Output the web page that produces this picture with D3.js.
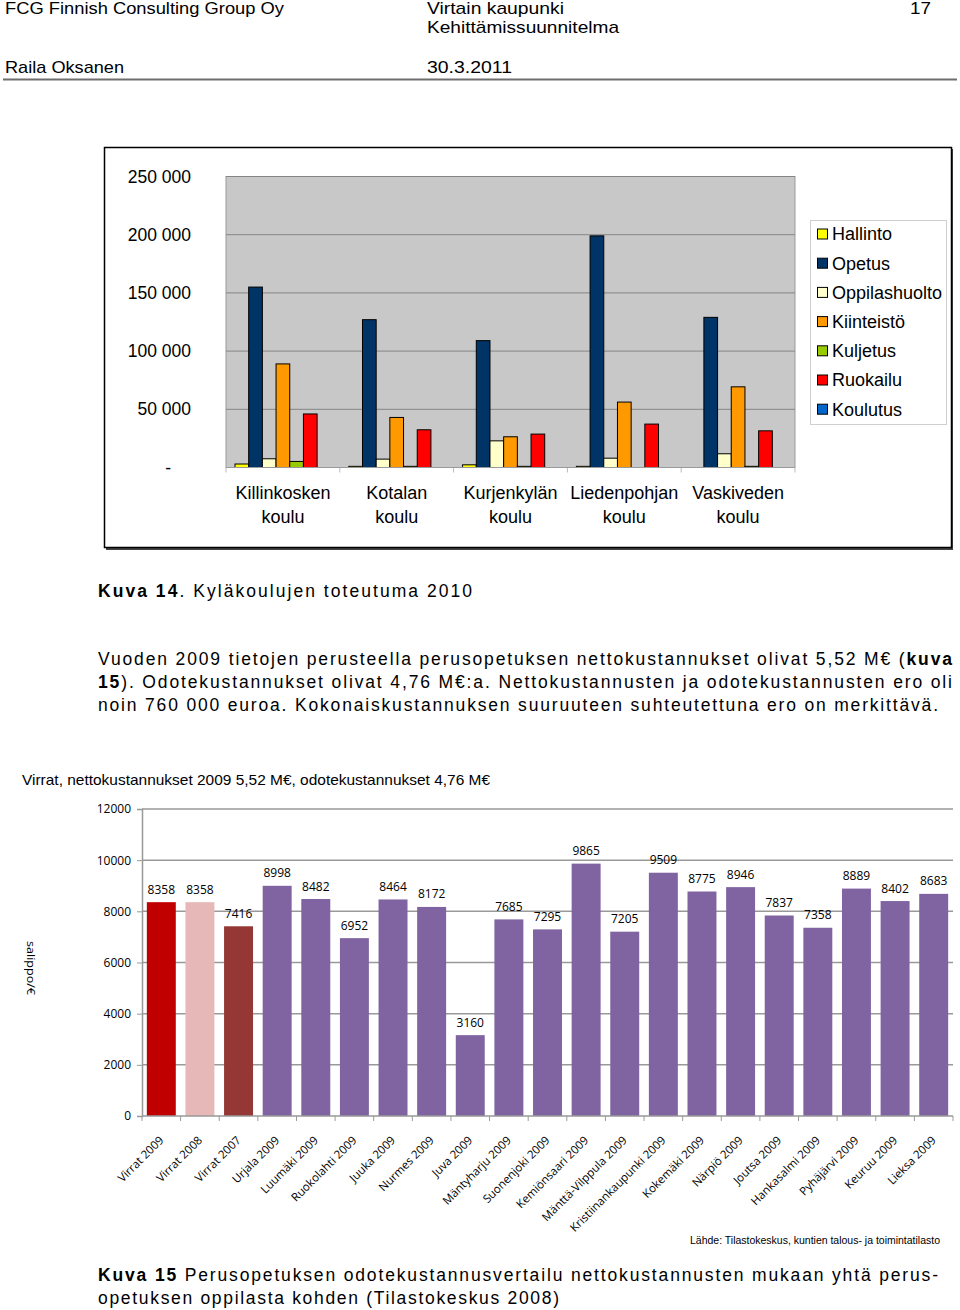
<!DOCTYPE html>
<html>
<head>
<meta charset="utf-8">
<script src="https://cdn.jsdelivr.net/npm/d3@7"></script>
<style>
  body { margin: 0; background: #fff; }
  svg { display: block; }
  .doc { font-family: 'Liberation Sans', Arial, sans-serif; fill: #000; }
  .c1 { font-family: 'Liberation Sans', Arial, sans-serif; fill: #000; }
  .c2 { font-family: 'Open Sans', 'Noto Sans', sans-serif; fill: #000; }
</style>
</head>
<body>
<div id="page"></div>
<script>
// chart 1: kyläkoulujen toteutuma 2010
var schools = ["Killinkosken koulu", "Kotalan koulu", "Kurjenkylän koulu", "Liedenpohjan koulu", "Vaskiveden koulu"];
var seriesNames = ["Hallinto", "Opetus", "Oppilashuolto", "Kiinteistö", "Kuljetus", "Ruokailu", "Koulutus"];
var hallinto      = [3000, 1000, 2300, 1000, 0];
var opetus        = [155000, 127000, 109000, 199000, 129000];
var oppilashuolto = [7500, 7200, 22900, 8000, 11800];
var kiinteisto    = [89000, 43000, 26400, 56200, 69300];
var kuljetus      = [5200, 1000, 1000, 0, 1000];
var ruokailu      = [46000, 32400, 28700, 37300, 31500];
var koulutus      = [0, 0, 0, 0, 0];
var y1Ticks = [0, 50000, 100000, 150000, 200000, 250000];

// chart 2: odotekustannukset per oppilas
var municipalities = ["Virrat 2009", "Virrat 2008", "Virrat 2007", "Urjala 2009", "Luumäki 2009", "Ruokolahti 2009",
  "Juuka 2009", "Nurmes 2009", "Juva 2009", "Mäntyharju 2009", "Suonenjoki 2009", "Kemiönsaari 2009",
  "Mänttä-Vilppula 2009", "Kristiinankaupunki 2009", "Kokemäki 2009", "Närpiö 2009", "Joutsa 2009",
  "Hankasalmi 2009", "Pyhäjärvi 2009", "Keuruu 2009", "Lieksa 2009"];
var costPerPupil = [8358, 8358, 7416, 8998, 8482, 6952, 8464, 8172, 3160, 7685, 7295, 9865,
  7205, 9509, 8775, 8946, 7837, 7358, 8889, 8402, 8683];
var y2Ticks = [0, 2000, 4000, 6000, 8000, 10000, 12000];

var seriesValues = [hallinto, opetus, oppilashuolto, kiinteisto, kuljetus, ruokailu, koulutus];

var svg = d3.select("#page").append("svg")
    .attr("width", 960)
    .attr("height", 1310);

// ---------- page text helper ----------
function docText(x, y, w, parts, size, squeeze) {
  var t = svg.append("text").attr("class", "doc")
      .attr("x", x).attr("y", y)
      .style("font-size", (size || 17) + "px");
  if (w) t.attr("textLength", w).attr("lengthAdjust", squeeze ? "spacingAndGlyphs" : "spacing");
  parts.forEach(function(p) {
    t.append("tspan").text(p[0]).style("font-weight", p[1] ? "bold" : "normal");
  });
  return t;
}

docText(5, 14, 279, [["FCG Finnish Consulting Group Oy"]], 17, true);
docText(427, 14, 137, [["Virtain kaupunki"]], 17, true);
docText(910, 14, 21, [["17"]], 17, true);
docText(427, 33, 192, [["Kehittämissuunnitelma"]], 17, true);
docText(5, 73, 119, [["Raila Oksanen"]], 17, true);
docText(427, 73, 85, [["30.3.2011"]], 17, true);
svg.append("line").attr("x1", 3).attr("x2", 957).attr("y1", 79.5).attr("y2", 79.5)
    .attr("stroke", "#6e6e6e").attr("stroke-width", 2);

// ---------- chart 1 ----------
svg.append("rect").attr("x", 106).attr("y", 149).attr("width", 847).attr("height", 401)
    .attr("fill", "#444");
svg.append("rect").attr("x", 104.5).attr("y", 147.5).attr("width", 847).attr("height", 400)
    .attr("fill", "#fff").attr("stroke", "#000").attr("stroke-width", 1.5);

var p1 = {left: 226, right: 795, top: 176.5, bottom: 467.5};

var x1 = d3.scaleBand().domain(schools).range([p1.left, p1.right]);
var xs = d3.scaleBand().domain(seriesNames).range([9, x1.bandwidth() - 9]);
var y1 = d3.scaleLinear().domain([0, 250000]).range([p1.bottom, p1.top]);
var color1 = d3.scaleOrdinal().domain(seriesNames)
    .range(["#FFFF00", "#003366", "#FFFFCC", "#FF9900", "#99CC00", "#FF0000", "#0066CC"]);

svg.append("rect").attr("x", p1.left).attr("y", p1.top)
    .attr("width", p1.right - p1.left).attr("height", p1.bottom - p1.top)
    .attr("fill", "#C8C8C8").attr("stroke", "#9a9a9a");

svg.append("g").selectAll("line").data(y1Ticks.slice(1)).enter().append("line")
    .attr("x1", p1.left).attr("x2", p1.right)
    .attr("y1", function(d) { return y1(d); }).attr("y2", function(d) { return y1(d); })
    .attr("stroke", "#858585");

svg.append("g").selectAll("text").data(y1Ticks).enter().append("text")
    .attr("class", "c1")
    .attr("x", function(d) { return d === 0 ? 171 : 191; })
    .attr("y", function(d) { return y1(d); })
    .attr("dy", "0.35em")
    .attr("text-anchor", "end")
    .style("font-size", "17.5px")
    .text(function(d) { return d === 0 ? "-" : d3.format(",")(d).replace(/,/g, " "); });

// category ticks below the axis
svg.append("g").selectAll("line").data(d3.range(schools.length + 1)).enter().append("line")
    .attr("x1", function(i) { return p1.left + i * x1.step(); })
    .attr("x2", function(i) { return p1.left + i * x1.step(); })
    .attr("y1", p1.bottom).attr("y2", p1.bottom + 5)
    .attr("stroke", "#bbb");

var barData = [];
schools.forEach(function(s, i) {
  seriesNames.forEach(function(n, j) {
    if (seriesValues[j][i] > 0) barData.push({school: s, series: n, value: seriesValues[j][i]});
  });
});

svg.append("g").selectAll("rect").data(barData).enter().append("rect")
    .attr("x", function(d) { return x1(d.school) + xs(d.series); })
    .attr("y", function(d) { return y1(d.value); })
    .attr("width", xs.bandwidth())
    .attr("height", function(d) { return y1(0) - y1(d.value); })
    .attr("fill", function(d) { return color1(d.series); })
    .attr("stroke", "#000").attr("stroke-width", 1);

svg.append("line").attr("x1", p1.left).attr("x2", p1.right)
    .attr("y1", p1.bottom).attr("y2", p1.bottom).attr("stroke", "#9a9a9a");

var xl = svg.append("g").selectAll("text").data(schools).enter().append("text")
    .attr("class", "c1")
    .attr("text-anchor", "middle")
    .style("font-size", "18px");
xl.append("tspan")
    .attr("x", function(d) { return x1(d) + x1.bandwidth() / 2; })
    .attr("y", 499)
    .text(function(d) { return d.split(" ")[0]; });
xl.append("tspan")
    .attr("x", function(d) { return x1(d) + x1.bandwidth() / 2; })
    .attr("y", 523)
    .text(function(d) { return d.split(" ")[1]; });

// legend
svg.append("rect").attr("x", 810.5).attr("y", 220.5).attr("width", 136).attr("height", 204)
    .attr("fill", "#fff").attr("stroke", "#cfcfcf");
var lg = svg.append("g").selectAll("g").data(seriesNames).enter().append("g")
    .attr("transform", function(d, i) { return "translate(817," + (234 + i * 29.2) + ")"; });
lg.append("rect").attr("x", 0.5).attr("y", -5).attr("width", 10).attr("height", 10)
    .attr("fill", function(d) { return color1(d); }).attr("stroke", "#000");
lg.append("text").attr("class", "c1").attr("x", 15).attr("dy", "0.35em")
    .style("font-size", "18px").text(function(d) { return d; });

// ---------- text between charts ----------
docText(98, 597, 374, [["Kuva 14", true], [". Kyläkoulujen toteutuma 2010"]], 17.5);
docText(98, 665, 854, [["Vuoden 2009 tietojen perusteella perusopetuksen nettokustannukset olivat 5,52 M€ ("], ["kuva", true]], 17.5);
docText(98, 688, 854, [["15", true], ["). Odotekustannukset olivat 4,76 M€:a. Nettokustannusten ja odotekustannusten ero oli"]], 17.5);
docText(98, 711, 840, [["noin 760 000 euroa. Kokonaiskustannuksen suuruuteen suhteutettuna ero on merkittävä."]], 17.5);

// ---------- chart 2 ----------
svg.append("text").attr("class", "c1")
    .attr("x", 22).attr("y", 785)
    .attr("textLength", 468).attr("lengthAdjust", "spacingAndGlyphs")
    .style("font-size", "15px")
    .text("Virrat, nettokustannukset 2009 5,52 M€, odotekustannukset 4,76 M€");

var p2 = {left: 142, right: 953, top: 809, bottom: 1116};
var x2 = d3.scaleBand().domain(municipalities).range([p2.left, p2.right])
    .paddingInner(0.25).paddingOuter(0.125);
var y2 = d3.scaleLinear().domain([0, 12000]).range([p2.bottom, p2.top]);
var barColor2 = function(i) { return i === 0 ? "#C00000" : i === 1 ? "#E6B9B8" : i === 2 ? "#953735" : "#8064A2"; };

svg.append("g").selectAll("line").data(y2Ticks.slice(1)).enter().append("line")
    .attr("x1", p2.left).attr("x2", p2.right)
    .attr("y1", function(d) { return y2(d); }).attr("y2", function(d) { return y2(d); })
    .attr("stroke", "#999").attr("stroke-width", 1.5);

var yAxis2 = svg.append("g").attr("transform", "translate(" + p2.left + ",0)")
    .call(d3.axisLeft(y2).tickValues(y2Ticks).tickSize(5).tickPadding(6).tickFormat(d3.format("d")));
yAxis2.select(".domain").attr("stroke", "#999").attr("stroke-width", 1.5);
yAxis2.selectAll(".tick line").attr("stroke", "#999");
yAxis2.selectAll(".tick text").attr("class", "c2").style("font-size", "12px").attr("fill", "#000");

svg.append("g").selectAll("rect").data(costPerPupil).enter().append("rect")
    .attr("x", function(d, i) { return x2(municipalities[i]); })
    .attr("y", function(d) { return y2(d); })
    .attr("width", x2.bandwidth())
    .attr("height", function(d) { return y2(0) - y2(d); })
    .attr("fill", function(d, i) { return barColor2(i); });

svg.append("g").selectAll("text").data(costPerPupil).enter().append("text")
    .attr("class", "c2")
    .attr("x", function(d, i) { return x2(municipalities[i]) + x2.bandwidth() / 2; })
    .attr("y", function(d) { return y2(d) - 8.5; })
    .attr("text-anchor", "middle")
    .style("font-size", "12px")
    .text(function(d) { return d; });

var xAxis2 = svg.append("g").attr("transform", "translate(0," + p2.bottom + ")");
xAxis2.append("line").attr("x1", p2.left).attr("x2", p2.right).attr("stroke", "#999").attr("stroke-width", 1.5);
xAxis2.selectAll(".tk").data(d3.range(municipalities.length + 1)).enter().append("line")
    .attr("x1", function(i) { return p2.left + i * x2.step(); })
    .attr("x2", function(i) { return p2.left + i * x2.step(); })
    .attr("y1", 0).attr("y2", 5).attr("stroke", "#999");

svg.append("g").selectAll("text").data(municipalities).enter().append("text")
    .attr("class", "c2")
    .attr("text-anchor", "end")
    .style("font-size", "11.5px")
    .attr("transform", function(d) {
      return "translate(" + (x2(d) + x2.bandwidth() / 2 + 3) + ",1141) rotate(-45)";
    })
    .text(function(d) { return d; });

// garbled vertical axis title as it appears in the source: turned text, squeezed to its short length
svg.append("text").attr("class", "c2")
    .attr("transform", "translate(27,941) rotate(90)")
    .attr("textLength", 54).attr("lengthAdjust", "spacingAndGlyphs")
    .style("font-size", "11px")
    .text("salippo/€");

svg.append("text").attr("class", "c1")
    .attr("x", 690).attr("y", 1244)
    .attr("textLength", 250).attr("lengthAdjust", "spacingAndGlyphs")
    .style("font-size", "11px")
    .text("Lähde: Tilastokeskus, kuntien talous- ja toimintatilasto");

docText(98, 1281, 840, [["Kuva 15", true], [" Perusopetuksen odotekustannusvertailu nettokustannusten mukaan yhtä perus-"]], 17.5);
docText(98, 1304, 461, [["opetuksen oppilasta kohden (Tilastokeskus 2008)"]], 17.5);
</script>
</body>
</html>
